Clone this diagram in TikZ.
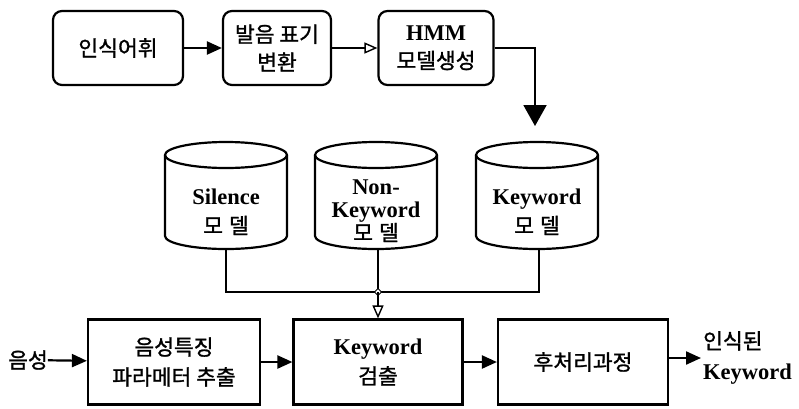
\documentclass[tikz,border=0pt]{standalone}
\usepackage{fontspec}
\setmainfont{Liberation Serif}
\newfontfamily\kr[FakeBold=1.2]{Noto Sans CJK KR}
\usetikzlibrary{arrows.meta}
\begin{document}
\begin{tikzpicture}[x=1pt,y=1pt,
  rbox/.style={draw, line width=2.2pt, rounded corners=9pt, align=center, inner sep=0pt, font=\fontsize{21.5}{30}\selectfont},
  sbox/.style={draw, line width=2.2pt, align=center, inner sep=0pt, font=\fontsize{21.5}{30}\selectfont},
  lbl/.style={align=center, inner sep=0pt, font=\fontsize{21.5}{30}\selectfont},
  conn/.style={line width=2.2pt, -{Triangle[length=15pt,width=13pt]}},
  oconn/.style={line width=2pt, -{Triangle[open,length=13pt,width=11pt,line width=1.4pt]}},
  big/.style={line width=2pt, -{Triangle[length=21pt,width=23pt]}},
  cyl/.style={line width=2.2pt}
]
\useasboundingbox (0,0) rectangle (799,-408);

% top row
\node[rbox, minimum width=130pt, minimum height=74pt] (voc) at (118,-48) {\kr 인식어휘};
\node[rbox, minimum width=108pt, minimum height=74pt] (pron) at (277,-48) {\kr 발음 표기\\[-2pt]\kr 변환};
\node[rbox, minimum width=115pt, minimum height=74pt] (hmm) at (436,-48) {{\fontsize{22.5}{22}\selectfont\bfseries HMM}\\[-2pt]\kr 모델생성};

\draw[conn] (voc) -- (pron);
\draw[oconn] (pron) -- (hmm);

% cylinders
\foreach \cx in {226,376,537}{
  \draw[cyl] (\cx,-155) ellipse [x radius=61pt, y radius=13pt];
  \draw[cyl] (\cx-61,-155) -- (\cx-61,-236) arc[start angle=180, end angle=360, x radius=61pt, y radius=13pt] -- (\cx+61,-155);
}
\node[lbl] (sil) at (226,-212) {{\fontsize{22.5}{22}\selectfont\bfseries Silence}\\[-1pt]\kr 모\hspace{6pt}델};
\node[lbl] (nkw) at (376,-211) {{\fontsize{22.5}{20}\selectfont\bfseries Non-}\\[-7pt]{\fontsize{22.5}{20}\selectfont\bfseries Keyword}\\[-7pt]\kr 모\hspace{6pt}델};
\node[lbl] (kwm) at (537,-212) {{\fontsize{22.5}{22}\selectfont\bfseries Keyword}\\[-1pt]\kr 모\hspace{6pt}델};

\coordinate (silb) at (226,-249);
\coordinate (nkwb) at (378,-249);
\coordinate (kwmb) at (539,-249);
\coordinate (kwmt) at (535,-126);
\coordinate (j) at (378,-292);

\draw[big] (hmm.east |- 0,-48) -| (kwmt);

% bottom row
\node[sbox, minimum width=172pt, minimum height=85pt] (feat) at (174,-362) {\kr 음성특징\\\kr 파라메터 추출};
\node[sbox, minimum width=169pt, minimum height=85pt] (det) at (378,-362) {{\fontsize{22.5}{22}\selectfont\bfseries Keyword}\\\kr 검출};
\node[sbox, minimum width=170pt, minimum height=85pt] (post) at (583,-362) {\kr 후처리과정};

\node[lbl, anchor=center] (in) at (28,-360) {\kr 음성};
\node[lbl, anchor=west, align=left, font=\fontsize{21.5}{31}\selectfont] (out) at (703,-358) {\kr 인식된\\{\fontsize{22.5}{22}\selectfont\bfseries Keyword}};
\coordinate (outp) at (701,-358);

\draw[line width=2pt] (silb) |- (j) -| (kwmb);
\draw[line width=2pt] (nkwb) -- (j);
\draw[line width=1pt, fill=white] (j) +(0,3.5pt) -- +(3.5pt,0) -- +(0,-3.5pt) -- +(-3.5pt,0) -- cycle;
\draw[oconn] (j) -- (det.north);

\draw[conn] (in) -- (feat);
\draw[conn] (feat) -- (det);
\draw[conn] (det) -- (post);
\draw[conn] (post.east |- outp) -- (outp);
\end{tikzpicture}
\end{document}
